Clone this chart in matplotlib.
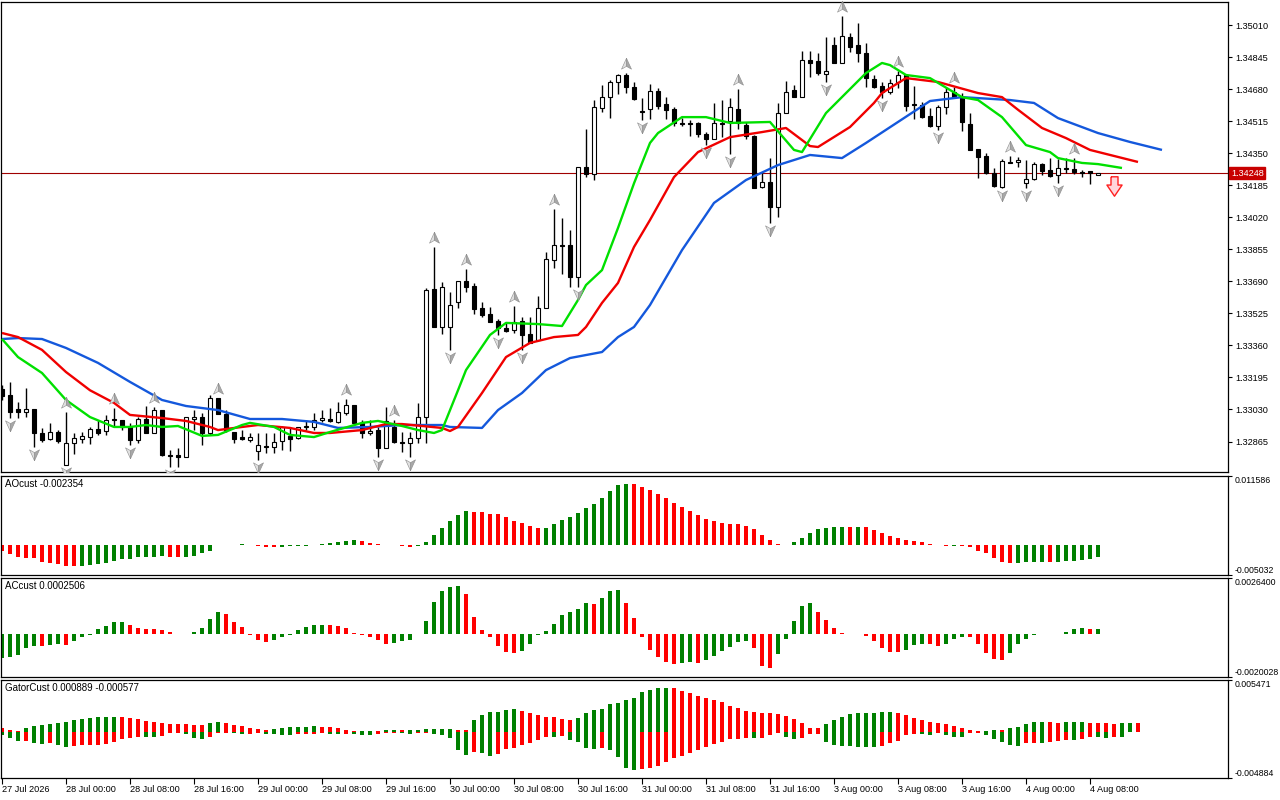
import numpy as np
import matplotlib
matplotlib.use('Agg')
import matplotlib.pyplot as plt
from matplotlib.path import Path
from matplotlib.transforms import offset_copy, blended_transform_factory

plt.rcParams['font.family'] = ['Liberation Sans', 'DejaVu Sans']

# ---------------------------------------------------------------- data
DATE_LABELS = ['27 Jul 2026', '28 Jul 00:00', '28 Jul 08:00', '28 Jul 16:00',
               '29 Jul 00:00', '29 Jul 08:00', '29 Jul 16:00', '30 Jul 00:00',
               '30 Jul 08:00', '30 Jul 16:00', '31 Jul 00:00', '31 Jul 08:00',
               '31 Jul 16:00', '3 Aug 00:00', '3 Aug 08:00', '3 Aug 16:00',
               '4 Aug 00:00', '4 Aug 08:00']

# H1 candles, one row per bar: open, high, low, close
OHLC = [
    (1.33136, 1.33156, 1.33079, 1.33100), (1.33105, 1.33172, 1.32986, 1.33017),
    (1.33033, 1.33069, 1.32986, 1.33017), (1.33017, 1.33141, 1.32991, 1.33033),
    (1.33033, 1.33033, 1.32837, 1.32909), (1.32909, 1.32935, 1.32863, 1.32873),
    (1.32878, 1.32961, 1.32873, 1.32914), (1.32914, 1.32924, 1.32858, 1.32868),
    (1.32744, 1.33017, 1.32744, 1.32858), (1.32858, 1.32909, 1.32801, 1.32883),
    (1.32878, 1.32914, 1.32858, 1.32894), (1.32888, 1.32940, 1.32852, 1.32930),
    (1.32930, 1.32976, 1.32899, 1.32909), (1.32919, 1.33002, 1.32899, 1.32976),
    (1.32981, 1.33038, 1.32945, 1.32976), (1.32976, 1.32976, 1.32924, 1.32940),
    (1.32940, 1.32961, 1.32847, 1.32873), (1.32873, 1.32991, 1.32858, 1.32981),
    (1.32981, 1.33048, 1.32909, 1.32909), (1.32909, 1.33043, 1.32909, 1.33027),
    (1.33027, 1.33027, 1.32791, 1.32796), (1.32796, 1.32821, 1.32734, 1.32791),
    (1.32796, 1.32832, 1.32734, 1.32785), (1.32785, 1.32991, 1.32785, 1.32991),
    (1.32981, 1.33027, 1.32924, 1.32991), (1.32991, 1.33012, 1.32847, 1.32909),
    (1.32909, 1.33105, 1.32899, 1.33089), (1.33089, 1.33089, 1.33007, 1.33007),
    (1.33007, 1.33027, 1.32914, 1.32924), (1.32914, 1.32914, 1.32858, 1.32878),
    (1.32888, 1.32924, 1.32873, 1.32878), (1.32873, 1.32909, 1.32863, 1.32888),
    (1.32816, 1.32909, 1.32770, 1.32847), (1.32842, 1.32909, 1.32806, 1.32837),
    (1.32837, 1.32909, 1.32806, 1.32863), (1.32868, 1.32945, 1.32821, 1.32940),
    (1.32894, 1.32940, 1.32816, 1.32878), (1.32883, 1.32940, 1.32878, 1.32940),
    (1.32940, 1.32976, 1.32924, 1.32945), (1.32940, 1.33012, 1.32924, 1.32976),
    (1.32976, 1.33027, 1.32966, 1.32986), (1.32981, 1.33038, 1.32966, 1.32971),
    (1.32966, 1.33069, 1.32961, 1.33017), (1.33012, 1.33084, 1.33002, 1.33053),
    (1.33053, 1.33053, 1.32961, 1.32961), (1.32961, 1.32976, 1.32883, 1.32909),
    (1.32909, 1.32976, 1.32899, 1.32919), (1.32924, 1.32940, 1.32785, 1.32832),
    (1.32832, 1.33043, 1.32832, 1.32971), (1.32940, 1.32976, 1.32858, 1.32863),
    (1.32863, 1.32914, 1.32811, 1.32858), (1.32858, 1.32914, 1.32785, 1.32883),
    (1.32883, 1.33064, 1.32858, 1.32991), (1.32991, 1.33656, 1.32858, 1.33645),
    (1.33651, 1.33867, 1.33455, 1.33455), (1.33455, 1.33687, 1.33419, 1.33661),
    (1.33455, 1.33635, 1.33336, 1.33568), (1.33584, 1.33692, 1.33553, 1.33692),
    (1.33692, 1.33754, 1.33635, 1.33661), (1.33666, 1.33682, 1.33522, 1.33548),
    (1.33553, 1.33584, 1.33506, 1.33517), (1.33522, 1.33558, 1.33481, 1.33481),
    (1.33486, 1.33496, 1.33414, 1.33450), (1.33450, 1.33481, 1.33429, 1.33434),
    (1.33439, 1.33563, 1.33424, 1.33481), (1.33486, 1.33506, 1.33336, 1.33414),
    (1.33419, 1.33506, 1.33373, 1.33373), (1.33388, 1.33615, 1.33388, 1.33553),
    (1.33553, 1.33841, 1.33553, 1.33805), (1.33800, 1.34063, 1.33759, 1.33877),
    (1.33877, 1.34016, 1.33728, 1.33872), (1.33877, 1.33954, 1.33661, 1.33712),
    (1.33712, 1.34279, 1.33661, 1.34279), (1.34279, 1.34475, 1.34227, 1.34243),
    (1.34243, 1.34624, 1.34212, 1.34588), (1.34583, 1.34701, 1.34562, 1.34639),
    (1.34639, 1.34727, 1.34531, 1.34717), (1.34717, 1.34758, 1.34655, 1.34753),
    (1.34753, 1.34763, 1.34660, 1.34691), (1.34691, 1.34717, 1.34624, 1.34629),
    (1.34567, 1.34634, 1.34521, 1.34562), (1.34578, 1.34706, 1.34526, 1.34670),
    (1.34670, 1.34686, 1.34578, 1.34593), (1.34603, 1.34639, 1.34526, 1.34572),
    (1.34578, 1.34588, 1.34490, 1.34506), (1.34506, 1.34531, 1.34490, 1.34500),
    (1.34506, 1.34521, 1.34439, 1.34500), (1.34506, 1.34511, 1.34433, 1.34449),
    (1.34449, 1.34459, 1.34392, 1.34423), (1.34423, 1.34609, 1.34423, 1.34506),
    (1.34506, 1.34624, 1.34433, 1.34500), (1.34516, 1.34634, 1.34346, 1.34588),
    (1.34578, 1.34681, 1.34475, 1.34506), (1.34495, 1.34511, 1.34423, 1.34439),
    (1.34439, 1.34444, 1.34171, 1.34171), (1.34176, 1.34253, 1.34171, 1.34202),
    (1.34202, 1.34325, 1.33991, 1.34073), (1.34073, 1.34609, 1.34021, 1.34557),
    (1.34557, 1.34722, 1.34557, 1.34665), (1.34675, 1.34701, 1.34639, 1.34639),
    (1.34639, 1.34876, 1.34639, 1.34830), (1.34830, 1.34876, 1.34742, 1.34815),
    (1.34825, 1.34866, 1.34753, 1.34763), (1.34758, 1.34948, 1.34717, 1.34773),
    (1.34907, 1.34948, 1.34815, 1.34815), (1.34815, 1.35057, 1.34815, 1.34954),
    (1.34948, 1.34969, 1.34871, 1.34897), (1.34907, 1.35021, 1.34820, 1.34866),
    (1.34866, 1.34918, 1.34691, 1.34737), (1.34732, 1.34753, 1.34686, 1.34691),
    (1.34696, 1.34717, 1.34634, 1.34665), (1.34665, 1.34732, 1.34655, 1.34712),
    (1.34717, 1.34773, 1.34686, 1.34753), (1.34753, 1.34758, 1.34567, 1.34593),
    (1.34603, 1.34696, 1.34526, 1.34598), (1.34598, 1.34614, 1.34531, 1.34536),
    (1.34542, 1.34583, 1.34485, 1.34490), (1.34490, 1.34598, 1.34469, 1.34588),
    (1.34588, 1.34691, 1.34552, 1.34665), (1.34665, 1.34691, 1.34634, 1.34639),
    (1.34639, 1.34660, 1.34464, 1.34511), (1.34500, 1.34557, 1.34366, 1.34366),
    (1.34372, 1.34372, 1.34222, 1.34330), (1.34336, 1.34351, 1.34243, 1.34248),
    (1.34248, 1.34274, 1.34176, 1.34181), (1.34176, 1.34320, 1.34171, 1.34310),
    (1.34305, 1.34336, 1.34300, 1.34300), (1.34305, 1.34330, 1.34279, 1.34315),
    (1.34197, 1.34315, 1.34171, 1.34217), (1.34217, 1.34305, 1.34212, 1.34294),
    (1.34294, 1.34300, 1.34238, 1.34258), (1.34263, 1.34325, 1.34227, 1.34233),
    (1.34238, 1.34320, 1.34197, 1.34274), (1.34274, 1.34325, 1.34248, 1.34269),
    (1.34269, 1.34325, 1.34243, 1.34253), (1.34253, 1.34263, 1.34227, 1.34248),
    (1.34258, 1.34258, 1.34191, 1.34248), (1.34238, 1.34248, 1.34238, 1.34248),
]

# Alligator lines (bar index, price)
JAW = [(0, 1.33393), (2, 1.33398), (5, 1.33393), (8, 1.33347), (12, 1.33270),
       (16, 1.33172), (20, 1.33079), (23, 1.33048), (27, 1.33027), (31, 1.32981),
       (35, 1.32981), (39, 1.32966), (42, 1.32935), (46, 1.32940), (50, 1.32950),
       (55, 1.32950), (56, 1.32940), (60, 1.32935), (62, 1.33027), (65, 1.33115),
       (68, 1.33233), (71, 1.33295), (75, 1.33326), (77, 1.33403), (79, 1.33455),
       (81, 1.33568), (85, 1.33851), (89, 1.34094), (93, 1.34212), (97, 1.34289),
       (101, 1.34341), (105, 1.34325), (108, 1.34403), (112, 1.34511), (116, 1.34619),
       (120, 1.34639), (126, 1.34624), (129, 1.34609), (132, 1.34531), (137, 1.34454),
       (141, 1.34408), (145, 1.34367)]
TEETH = [(0, 1.33424), (2, 1.33403), (5, 1.33337), (8, 1.33223), (11, 1.33129),
         (14, 1.33064), (16, 1.33002), (20, 1.32986), (23, 1.32971), (26, 1.32940),
         (27, 1.32924), (30, 1.32940), (32, 1.32950), (36, 1.32935), (39, 1.32909),
         (41, 1.32909), (45, 1.32924), (48, 1.32955), (50, 1.32955), (55, 1.32935),
         (56, 1.32919), (57, 1.32940), (60, 1.33115), (63, 1.33300), (66, 1.33373),
         (69, 1.33403), (72, 1.33414), (73, 1.33455), (75, 1.33579), (77, 1.33682),
         (79, 1.33867), (81, 1.34006), (84, 1.34227), (87, 1.34356), (91, 1.34433),
         (95, 1.34459), (98, 1.34480), (101, 1.34387), (102, 1.34382), (106, 1.34485),
         (109, 1.34609), (110, 1.34660), (113, 1.34737), (117, 1.34717), (122, 1.34660),
         (125, 1.34639), (127, 1.34574), (130, 1.34480), (133, 1.34428), (136, 1.34367),
         (139, 1.34336), (142, 1.34305)]
LIPS = [(0, 1.33393), (2, 1.33300), (5, 1.33218), (8, 1.33079), (11, 1.32991),
        (14, 1.32940), (16, 1.32940), (18, 1.32950), (20, 1.32940), (22, 1.32945),
        (25, 1.32894), (27, 1.32899), (30, 1.32950), (31, 1.32961), (34, 1.32940),
        (36, 1.32899), (39, 1.32888), (41, 1.32914), (45, 1.32961), (47, 1.32971),
        (50, 1.32945), (52, 1.32924), (54, 1.32909), (55, 1.32924), (57, 1.33129),
        (58, 1.33233), (61, 1.33414), (63, 1.33476), (67, 1.33470), (70, 1.33460),
        (72, 1.33594), (73, 1.33671), (75, 1.33748), (77, 1.33965), (79, 1.34195),
        (81, 1.34403), (82, 1.34454), (85, 1.34536), (88, 1.34536), (91, 1.34506),
        (96, 1.34511), (99, 1.34367), (100, 1.34356), (103, 1.34557), (108, 1.34763),
        (110, 1.34815), (111, 1.34804), (113, 1.34753), (116, 1.34737), (120, 1.34639),
        (122, 1.34624), (125, 1.34536), (128, 1.34392), (131, 1.34356), (132, 1.34325),
        (135, 1.34300), (137, 1.34294), (140, 1.34274)]

FRACTAL_UP = [8, 14, 19, 27, 43, 49, 54, 58, 64, 69, 78, 92, 105, 112, 119, 126, 134]
FRACTAL_DOWN = [1, 4, 8, 16, 21, 32, 47, 51, 56, 62, 65, 72, 80, 88, 91, 96, 103,
                110, 117, 125, 128, 132]
SELL_SIGNAL = (139, 1.34179)

PRICE_TICKS = [1.35010, 1.34845, 1.34680, 1.34515, 1.34350, 1.34185, 1.34020,
               1.33855, 1.33690, 1.33525, 1.33360, 1.33195, 1.33030, 1.32865]

AO = [-0.00114, -0.00177, -0.00222, -0.00247, -0.00253, -0.00317, -0.00335, -0.00361, -0.00392, -0.00399,
      -0.00392, -0.00386, -0.00367, -0.00335, -0.00298, -0.00272, -0.00260, -0.00234, -0.00228, -0.00222,
      -0.00209, -0.00222, -0.00228, -0.00222, -0.00203, -0.00158, -0.00114, 0.00005, 0.00002, -0.00002,
      0.00020, -0.00005, -0.00018, -0.00030, -0.00036, -0.00032, -0.00028, -0.00020, -0.00012, 0.00000,
      0.00018, 0.00040, 0.00066, 0.00076, 0.00092, 0.00076, 0.00044, 0.00014, 0.00002, -0.00006,
      -0.00014, -0.00030, -0.00012, 0.00057, 0.00190, 0.00317, 0.00456, 0.00570, 0.00646, 0.00627,
      0.00620, 0.00589, 0.00585, 0.00525, 0.00456, 0.00411, 0.00361, 0.00317, 0.00329, 0.00392,
      0.00475, 0.00525, 0.00601, 0.00696, 0.00772, 0.00886, 0.01025, 0.01139, 0.011586, 0.01155,
      0.01108, 0.01044, 0.00968, 0.00886, 0.00798, 0.00722, 0.00646, 0.00570, 0.00487, 0.00449,
      0.00411, 0.00399, 0.00392, 0.00361, 0.00304, 0.00190, 0.00095, 0.00025, -0.00006, 0.00057,
      0.00133, 0.00234, 0.00304, 0.00323, 0.00342, 0.00348, 0.00340, 0.00344, 0.00336, 0.00285,
      0.00234, 0.00171, 0.00133, 0.00095, 0.00076, 0.00057, 0.00019, -0.00006, -0.00019, -0.00015,
      -0.00025, -0.00044, -0.00108, -0.00158, -0.00241, -0.00317, -0.00335, -0.00333, -0.00330, -0.00326,
      -0.00322, -0.00330, -0.00325, -0.00310, -0.00295, -0.00282, -0.00265, -0.002354]

AC = [-0.00125, -0.00119, -0.00111, -0.00073, -0.00062, -0.00064, -0.00061, -0.00054, -0.00057, -0.00038,
      -0.00016, -0.00005, 0.00022, 0.00042, 0.00061, 0.00062, 0.00045, 0.00029, 0.00024, 0.00023,
      0.00019, 0.00007, -0.00002, -0.00003, 0.00010, 0.00029, 0.00076, 0.00112, 0.00102, 0.00061,
      0.00036, -0.00005, -0.00033, -0.00042, -0.00033, -0.00016, -0.00005, 0.00017, 0.00033, 0.00045,
      0.00046, 0.00043, 0.00040, 0.00029, 0.00002, -0.00007, -0.00016, -0.00033, -0.00052, -0.00047,
      -0.00036, -0.00033, -0.00003, 0.00066, 0.00164, 0.00221, 0.00242, 0.00247, 0.00206, 0.00088,
      0.00017, -0.00016, -0.00062, -0.00095, -0.00102, -0.00090, -0.00055, -0.00005, 0.00014, 0.00050,
      0.00097, 0.00112, 0.00130, 0.00159, 0.00154, 0.00187, 0.00221, 0.00227, 0.00159, 0.00081,
      -0.00016, -0.00085, -0.00119, -0.00147, -0.00157, -0.00151, -0.00149, -0.00152, -0.00137, -0.00114,
      -0.00090, -0.00067, -0.00042, -0.00038, -0.00076, -0.00166, -0.00176, -0.00107, -0.00028, 0.00066,
      0.00144, 0.00157, 0.00111, 0.00071, 0.00028, 0.00003, 0.00001, -0.00001, -0.00012, -0.00036,
      -0.00073, -0.00095, -0.00096, -0.00085, -0.00057, -0.00054, -0.00055, -0.00062, -0.00054, -0.00028,
      -0.00016, -0.00018, -0.00054, -0.00099, -0.00133, -0.00137, -0.00102, -0.00054, -0.00028, -0.00005,
      -0.00002, -0.00003, -0.00004, 0.00010, 0.00022, 0.00029, 0.00022, 0.0002506]

# Gator histograms, in units of 1e-4
GATOR_UP_E4 = [4.0, 2.0, 1.2, 4.0, 6.8, 8.0, 9.2, 10.8, 11.2, 14.0,
               15.6, 16.8, 17.6, 17.7, 17.8, 17.6, 16.8, 15.2, 12.8, 11.2,
               10.0, 9.8, 9.2, 8.8, 8.0, 7.9, 10.0, 11.2, 10.8, 8.0,
               6.8, 4.0, 2.8, 2.0, 2.8, 4.0, 5.2, 5.3, 5.4, 6.8,
               5.6, 5.2, 4.8, 2.0, 0.4, 0.8, 1.2, 1.1, 1.6, 2.0,
               1.6, 2.0, 2.4, 2.8, 2.9, 3.2, 3.6, 2.0, 1.6, 14.0,
               20.0, 23.6, 23.7, 26.0, 26.8, 25.2, 22.0, 19.6, 18.0, 17.2,
               14.8, 14.0, 16.0, 22.0, 26.0, 26.8, 32.8, 34.0, 38.0, 40.0,
               48.0, 50.0, 52.0, 52.4, 52.0, 48.8, 46.0, 43.2, 40.8, 38.0,
               35.2, 31.2, 28.0, 25.2, 24.0, 22.8, 22.0, 21.2, 19.2, 14.8,
               10.0, 4.8, 4.0, 8.8, 14.0, 18.0, 20.8, 22.0, 22.4, 22.8,
               23.2, 23.6, 22.8, 20.0, 16.8, 14.0, 11.2, 10.0, 9.6, 7.2,
               4.8, 2.0, 0.4, 0.8, 2.0, 1.6, 4.8, 6.0, 8.8, 11.2,
               12.0, 11.6, 10.8, 11.2, 11.6, 12.0, 10.8, 10.4, 10.0, 9.6,
               10.0, 10.4, 10.0]
GATOR_DOWN_E4 = [4.0, 8.0, 10.8, 10.8, 13.2, 14.8, 13.2, 16.0, 18.0, 17.2,
                 16.0, 15.9, 15.8, 14.8, 12.0, 9.2, 8.0, 6.0, 6.1, 6.4,
                 5.2, 2.0, 1.9, 2.8, 8.0, 8.8, 6.0, 2.0, 1.2, 2.0,
                 2.8, 2.7, 2.0, 2.4, 2.8, 3.6, 4.0, 3.2, 2.8, 2.4,
                 2.0, 2.8, 3.2, 2.8, 3.2, 4.0, 4.4, 2.8, 2.0, 1.6,
                 2.0, 2.8, 2.0, 1.6, 3.2, 4.0, 8.0, 22.0, 28.0, 24.0,
                 26.0, 29.2, 26.8, 21.2, 20.0, 16.0, 13.2, 10.0, 6.0, 6.4,
                 5.2, 10.0, 12.0, 20.0, 21.2, 20.0, 22.0, 30.8, 43.2, 46.0,
                 45.2, 43.2, 41.2, 36.0, 32.0, 29.2, 26.0, 22.0, 18.8, 15.2,
                 12.0, 9.2, 8.8, 8.0, 8.1, 7.2, 4.0, 2.0, 6.0, 9.2,
                 7.2, 3.2, 2.8, 12.0, 16.0, 17.2, 17.6, 18.0, 18.4, 18.8,
                 17.2, 14.0, 10.8, 4.0, 2.8, 3.2, 3.6, 2.0, 4.0, 6.0,
                 6.4, 2.0, 1.2, 4.0, 9.2, 12.0, 16.0, 17.2, 14.0, 13.2,
                 13.6, 12.0, 10.8, 10.0, 10.4, 9.2, 6.0, 6.4, 7.2, 6.0,
                 6.8]

GREEN = '#008000'
RED = '#ff0000'
W, H = 1280, 800


def px_rect(x0, y0, x1, y1):
    """Figure rectangle from pixel corners (origin top-left)."""
    return [x0 / W, 1 - y1 / H, (x1 - x0) / W, (y1 - y0) / H]


def trend_colors(vals, first=RED):
    cols = [first]
    for prev, cur in zip(vals[:-1], vals[1:]):
        cols.append(GREEN if cur > prev else RED)
    return cols


def style_panel(ax, ylim):
    ax.set_xlim(-0.125, 153.25)
    ax.set_ylim(*ylim)
    ax.yaxis.tick_right()
    ax.tick_params(axis='y', direction='out', length=3, width=0.8, pad=2, labelsize=6.6)
    ax.set_xticks([])
    for sp in ax.spines.values():
        sp.set_color('black')
        sp.set_linewidth(0.9)


def edge_scale(ax, top_text, bottom_text):
    """MT5 style sub-window scale: one label hanging from the top edge, one resting on the bottom."""
    lo, hi = ax.get_ylim()
    ax.set_yticks([hi, lo])
    ax.set_yticklabels([top_text, bottom_text])
    ax.tick_params(axis='y', labelsize=6.3, pad=1.5)
    top_lbl, bottom_lbl = ax.get_yticklabels()
    top_lbl.set_va('top')
    bottom_lbl.set_va('bottom')


fig = plt.figure(figsize=(12.8, 8), dpi=100)
fig.patch.set_facecolor('white')

ax = fig.add_axes(px_rect(1, 2, 1228, 472))
ax_ao = fig.add_axes(px_rect(1, 476, 1228, 575))
ax_ac = fig.add_axes(px_rect(1, 578, 1228, 677))
ax_gt = fig.add_axes(px_rect(1, 680, 1228, 778))

# ---------------------------------------------------------------- candles
o, h, l, c = (np.array(col) for col in zip(*OHLC))
idx = np.arange(len(o))
bull = c >= o
ax.vlines(idx, l, h, color='black', lw=1.0, zorder=2)
ax.bar(idx, np.abs(c - o), bottom=np.minimum(o, c), width=0.62,
       color=np.where(bull, 'white', 'black'), edgecolor='black', linewidth=0.8, zorder=3)

# alligator
for pts, col in [(JAW, '#1458dc'), (TEETH, '#f00000'), (LIPS, '#00e000')]:
    xs, ys = zip(*pts)
    ax.plot(xs, ys, color=col, lw=1.7, zorder=4, solid_capstyle='butt', solid_joinstyle='round')

# current price line and tag
ax.axhline(c[-1], color='#a00000', lw=0.8, zorder=1)
tag_tr = offset_copy(blended_transform_factory(ax.transAxes, ax.transData), fig=fig, x=3, y=0, units='dots')
ax.text(1.0, c[-1], f'{c[-1]:.5f}', transform=tag_tr, ha='left', va='center',
        color='white', fontsize=6.6, zorder=10, clip_on=False,
        bbox=dict(boxstyle='square,pad=0.18', fc='#c80000', ec='#c80000'))

# fractal arrows (two-tone arrowheads)
left_half = Path([(0, 1), (-0.8, -0.75), (0, -0.3), (0, 1)])
right_half = Path([(0, 1), (0.8, -0.75), (0, -0.3), (0, 1)])
flip = lambda p: Path(p.vertices * [1, -1])
up_tr = offset_copy(ax.transData, fig=fig, x=0, y=9, units='dots')
dn_tr = offset_copy(ax.transData, fig=fig, x=0, y=-7, units='dots')
fu = np.array(FRACTAL_UP)
fd = np.array(FRACTAL_DOWN)
for half, shade in [(left_half, '#e0e0e0'), (right_half, '#a8a8a8')]:
    ax.plot(fu, h[fu], ls='none', marker=half, ms=9, mfc=shade, mec='#8c8c8c',
            mew=0.4, transform=up_tr, zorder=5, clip_on=False)
    ax.plot(fd, l[fd], ls='none', marker=flip(half), ms=9, mfc=shade, mec='#8c8c8c',
            mew=0.4, transform=dn_tr, zorder=5, clip_on=True)

# sell signal block arrow
sell_arrow = Path([(-0.36, 1), (0.36, 1), (0.36, 0.15), (0.78, 0.15), (0, -1),
                   (-0.78, 0.15), (-0.36, 0.15), (-0.36, 1)])
ax.plot([SELL_SIGNAL[0]], [SELL_SIGNAL[1]], ls='none', marker=sell_arrow, ms=14,
        mfc='#ffd6dc', mec='#ff2020', mew=1.0, zorder=6)

style_panel(ax, (1.32708, 1.35129))
ax.set_yticks(PRICE_TICKS)
ax.set_yticklabels([f'{t:.5f}' for t in PRICE_TICKS])

# ---------------------------------------------------------------- AO
ao = np.array(AO)
ax_ao.bar(np.arange(len(ao)), ao, width=0.42, color=trend_colors(AO), linewidth=0)
style_panel(ax_ao, (-0.0057, 0.01311))
edge_scale(ax_ao, '0.011586', '-0.005032')
ax_ao.text(4 / 1227, 1 - 3 / 99, f'AOcust {AO[-1]:.6f}', transform=ax_ao.transAxes,
           ha='left', va='top', fontsize=7)

# ---------------------------------------------------------------- AC
ac = np.array(AC)
ax_ac.bar(np.arange(len(ac)), ac, width=0.42, color=trend_colors(AC, GREEN), linewidth=0)
style_panel(ax_ac, (-0.002247, 0.00289))
edge_scale(ax_ac, '0.0026400', '-0.0020028')
ax_ac.text(4 / 1227, 1 - 3 / 99, f'ACcust {AC[-1]:.7f}', transform=ax_ac.transAxes,
           ha='left', va='top', fontsize=7)

# ---------------------------------------------------------------- Gator
g_up = np.array(GATOR_UP_E4) * 1e-4
g_dn = np.array(GATOR_DOWN_E4) * 1e-4
ax_gt.bar(np.arange(len(g_up)), g_up, width=0.42, color=trend_colors(GATOR_UP_E4), linewidth=0)
ax_gt.bar(np.arange(len(g_dn)), -g_dn, width=0.42, color=trend_colors(GATOR_DOWN_E4, GREEN), linewidth=0)
style_panel(ax_gt, (-0.00556, 0.0062))
edge_scale(ax_gt, '0.005471', '-0.004884')
ax_gt.text(4 / 1227, 1 - 3 / 98, 'GatorCust 0.000889 -0.000577', transform=ax_gt.transAxes,
           ha='left', va='top', fontsize=7)

ax_gt.set_xticks(np.arange(len(DATE_LABELS)) * 8)
ax_gt.set_xticklabels(DATE_LABELS)
ax_gt.tick_params(axis='x', direction='out', length=4, width=0.8, pad=1, labelsize=6.6)
for lbl in ax_gt.get_xticklabels():
    lbl.set_ha('left')

fig.savefig('out.png', dpi=100, facecolor='white')
